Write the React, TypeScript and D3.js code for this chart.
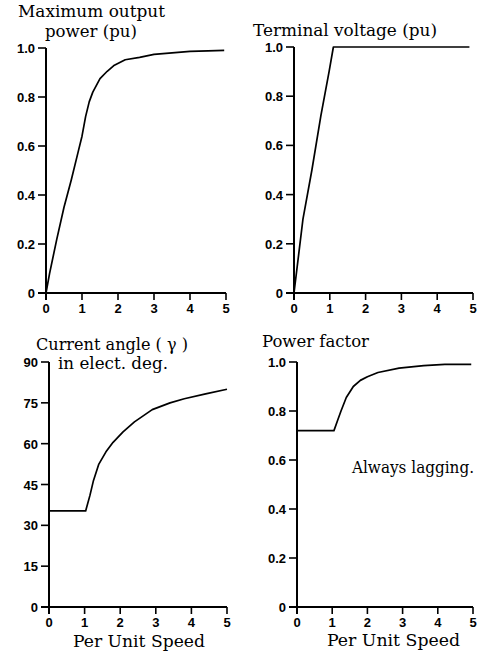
import React from 'react';
import * as d3 from 'd3';

// x values (per unit speed) and read-off curves
const speedPower = [0, 0.1, 0.3, 0.5, 0.7, 0.9, 1.0, 1.1, 1.2, 1.3, 1.5, 1.7, 1.9, 2.2, 2.6, 3.0, 3.5, 4.0, 4.5, 4.95];
const maxPower = [0, 0.08, 0.22, 0.35, 0.46, 0.58, 0.64, 0.72, 0.78, 0.82, 0.875, 0.905, 0.93, 0.952, 0.962, 0.974, 0.98, 0.986, 0.988, 0.99];

const speedVolt = [0, 0.25, 0.5, 0.75, 0.98, 1.1, 4.9];
const termVolt = [0, 0.3, 0.5, 0.72, 0.9, 1.0, 1.0];

const speedAngle = [0, 1.03, 1.15, 1.25, 1.4, 1.6, 1.8, 2.08, 2.4, 2.9, 3.4, 3.8, 4.4, 5.0];
const currentAngle = [35.3, 35.3, 41, 46.5, 52.5, 57, 60.5, 64.3, 68, 72.5, 75, 76.5, 78.3, 80];

const speedPf = [0, 1.05, 1.15, 1.25, 1.4, 1.6, 1.8, 2.0, 2.3, 2.9, 3.6, 4.2, 4.95];
const powerFactor = [0.72, 0.72, 0.76, 0.8, 0.855, 0.9, 0.925, 0.94, 0.957, 0.975, 0.985, 0.99, 0.99];

const xTicks = [0, 1, 2, 3, 4, 5];
const puTicks = [0, 0.2, 0.4, 0.6, 0.8, 1.0];
const puLabels = ['0', '0.2', '0.4', '0.6', '0.8', '1.0'];
const degTicks = [0, 15, 30, 45, 60, 75, 90];
const degLabels = ['0', '15', '30', '45', '60', '75', '90'];

const serif = '"DejaVu Serif", serif';
const sans = '"Liberation Sans", Arial, sans-serif';

type PanelProps = {
  left: number; right: number; top: number; bottom: number;
  yMax: number; yTicks: number[]; yLabels: string[];
  xs: number[]; ys: number[];
};

const Panel = ({ left, right, top, bottom, yMax, yTicks, yLabels, xs, ys }: PanelProps) => {
  const x = d3.scaleLinear().domain([0, 5]).range([left, right]);
  const y = d3.scaleLinear().domain([0, yMax]).range([bottom, top]);
  const line = d3.line<number>().x((d) => x(d)).y((_, i) => y(ys[i]));

  return (
    <g>
      {/* axes */}
      <line x1={x(0)} x2={x(0)} y1={y(yMax)} y2={y(0) + 7} stroke="#000" strokeWidth={2} />
      <line x1={x(0) - 8} x2={x(5)} y1={y(0)} y2={y(0)} stroke="#000" strokeWidth={2} />
      {yTicks.map((t, i) => (
        <g key={'y' + i}>
          <line x1={x(0) - 8} x2={x(0)} y1={y(t)} y2={y(t)} stroke="#000" strokeWidth={1.6} />
          <text x={x(0) - 11} y={y(t) + 5} textAnchor="end" fontFamily={sans} fontWeight="bold" fontSize={13}>
            {yLabels[i]}
          </text>
        </g>
      ))}
      {xTicks.map((t) => (
        <g key={'x' + t}>
          <line x1={x(t)} x2={x(t)} y1={y(0)} y2={y(0) + 7} stroke="#000" strokeWidth={1.6} />
          <text x={x(t)} y={y(0) + 20} textAnchor="middle" fontFamily={sans} fontWeight="bold" fontSize={13}>
            {t}
          </text>
        </g>
      ))}
      <path d={line(xs) || ''} fill="none" stroke="#000" strokeWidth={1.7} strokeLinejoin="round" />
    </g>
  );
};

const Label = ({ x, y, w, children }: { x: number; y: number; w: number; children: string }) => (
  <text x={x} y={y} fontFamily={serif} fontSize={16} textLength={w} lengthAdjust="spacingAndGlyphs">
    {children}
  </text>
);

export default function App() {
  return (
    <svg width={479} height={654} style={{ position: 'absolute', left: 0, top: 0, background: '#fff' }}>
      <Panel left={46} right={226} top={48} bottom={293} yMax={1} yTicks={puTicks} yLabels={puLabels} xs={speedPower} ys={maxPower} />
      <Panel left={294} right={473} top={47} bottom={293} yMax={1} yTicks={puTicks} yLabels={puLabels} xs={speedVolt} ys={termVolt} />
      <Panel left={49} right={227} top={362} bottom={607} yMax={90} yTicks={degTicks} yLabels={degLabels} xs={speedAngle} ys={currentAngle} />
      <Panel left={297} right={473} top={362} bottom={607} yMax={1} yTicks={puTicks} yLabels={puLabels} xs={speedPf} ys={powerFactor} />

      <Label x={18} y={17} w={147}>Maximum output</Label>
      <Label x={45} y={37} w={92}>power  (pu)</Label>
      <Label x={253} y={36} w={184}>Terminal  voltage  (pu)</Label>
      <Label x={36} y={350} w={152}>Current angle ( γ )</Label>
      <Label x={58} y={369} w={110}>in elect. deg.</Label>
      <Label x={262} y={347} w={107}>Power  factor</Label>
      <Label x={352} y={473} w={122}>Always lagging.</Label>
      <Label x={73} y={647} w={132}>Per  Unit  Speed</Label>
      <Label x={327} y={646} w={133}>Per  Unit  Speed</Label>
    </svg>
  );
}
